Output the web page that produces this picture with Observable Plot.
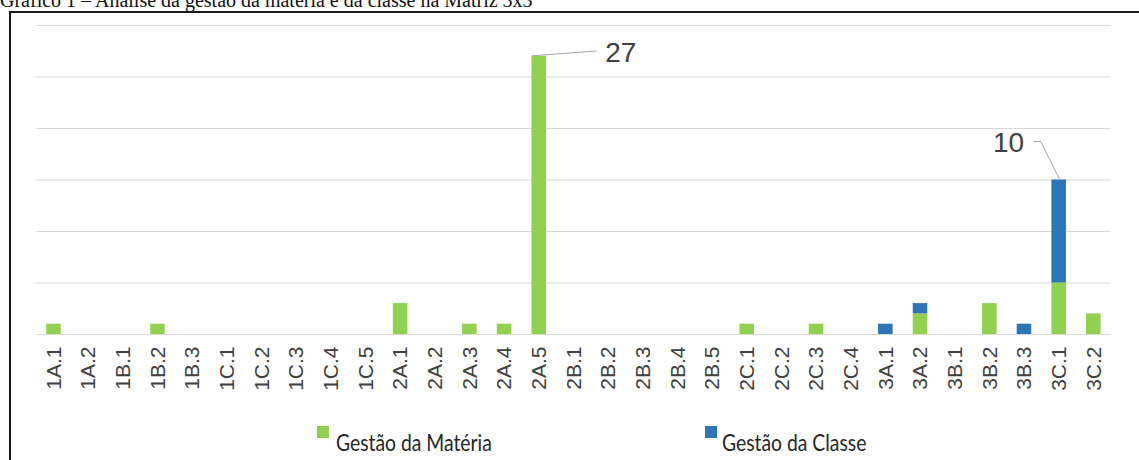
<!DOCTYPE html>
<html>
<head>
<meta charset="utf-8">
<script src="https://cdn.jsdelivr.net/npm/d3@7"></script>
<script src="https://cdn.jsdelivr.net/npm/@observablehq/plot@0.6"></script>
<style>
  body { margin: 0; background: #fff; }
  #wrap { position: relative; width: 1139px; height: 460px; overflow: hidden; background: #fff; }
  #title { position: absolute; left: 0; top: -10px; font-family: "Liberation Serif", "Times New Roman", serif; font-size: 20px; line-height: 1; color: #111; white-space: nowrap; }
  #frame { position: absolute; left: 9px; top: 11px; width: 1200px; height: 600px; border: 2px solid #1a1a1a; box-sizing: border-box; }
  #chart { position: absolute; left: 0; top: 0; }
  .lg-sw { position: absolute; width: 12px; height: 12px; }
  .lg-tx { position: absolute; font-family: Lato, "Open Sans", sans-serif; font-size: 23px; line-height: 1; color: #262626; white-space: nowrap; transform: scaleX(0.84); transform-origin: left top; }
</style>
</head>
<body>
<div id="wrap">
  <div id="title">Gráfico 1 – Análise da gestão da matéria e da classe na Matriz 3x3</div>
  <div id="frame"></div>
  <div id="chart"></div>
  <div id="legend"></div>
</div>
<script>
const categories = ["1A.1","1A.2","1B.1","1B.2","1B.3","1C.1","1C.2","1C.3","1C.4","1C.5",
  "2A.1","2A.2","2A.3","2A.4","2A.5","2B.1","2B.2","2B.3","2B.4","2B.5",
  "2C.1","2C.2","2C.3","2C.4","3A.1","3A.2","3B.1","3B.2","3B.3","3C.1","3C.2"];
const materia = [1,0,0,1,0,0,0,0,0,0, 3,0,1,1,27,0,0,0,0,0, 1,0,1,0,0,2,0,3,0,5,2];
const classe  = [0,0,0,0,0,0,0,0,0,0, 0,0,0,0,0,0,0,0,0,0, 0,0,0,0,1,1,0,0,1,10,0];
const seriesNames = ["Gestão da Matéria", "Gestão da Classe"];
const seriesColors = ["#92D050", "#2E75B6"];
const yTicks = [0,5,10,15,20,25,30];
// data labels: [category, series index]
const labelled = [["2A.5", 0], ["3C.1", 1]];

const rows = [];
categories.forEach((c, i) => {
  rows.push({cat: c, series: seriesNames[0], value: materia[i]});
  rows.push({cat: c, series: seriesNames[1], value: classe[i]});
});
const labelRows = labelled.map(([c, s]) => {
  const i = categories.indexOf(c);
  const value = s === 0 ? materia[i] : classe[i];
  const top = materia[i] + (s === 1 ? classe[i] : 0);
  return {cat: c, value, top, s};
});

const chart = Plot.plot({
  width: 1139,
  height: 460,
  marginLeft: 26.1,
  marginRight: 18.3,
  marginTop: 25,
  marginBottom: 126,
  style: {background: "transparent", color: "#404040", fontFamily: "'Liberation Sans', Arial, sans-serif"},
  x: {domain: categories, padding: 0.58, round: false, label: null},
  y: {domain: [0, 30], axis: null},
  color: {domain: seriesNames, range: seriesColors},
  marks: [
    Plot.ruleY(yTicks, {stroke: "#d9d9d9", strokeWidth: 1, insetLeft: 10.1, insetRight: 10.1}),
    Plot.barY(rows, {x: "cat", y: "value", fill: "series", order: seriesNames}),
    Plot.axisX({tickRotate: -90, tickSize: 0, tickPadding: 12, fontSize: 21, label: null, fill: "#404040"}),
    Plot.text(labelRows.filter(d => d.s === 0), {x: "cat", y: "top", text: d => String(d.value), textAnchor: "start", dx: 66, dy: -3, fontSize: 28, fill: "#404040"}),
    Plot.text(labelRows.filter(d => d.s === 1), {x: "cat", y: "top", text: d => String(d.value), textAnchor: "end", dx: -35, dy: -37, fontSize: 28, fill: "#404040"})
  ]
});
document.getElementById("chart").appendChild(chart);

// leader lines drawn with the plot's own scales
const sx = chart.scale("x"), sy = chart.scale("y");
const bw = sx.bandwidth || 0;
const g = d3.select(chart).append("g").attr("fill", "none").attr("stroke", "#a6a6a6").attr("stroke-width", 1);
for (const d of labelRows) {
  const xc = sx.apply(d.cat) + bw / 2, yt = sy.apply(d.top);
  if (d.s === 0) {
    g.append("path").attr("d", `M${xc - 7},${yt} L${xc + 58},${yt - 5}`);
  } else {
    g.append("path").attr("d", `M${xc - 25},${yt - 38} L${xc - 18},${yt - 38} L${xc + 1},${yt}`);
  }
}

const legend = document.getElementById("legend");
const lgPos = [{sw: 317, tx: 336}, {sw: 705, tx: 722}];
seriesNames.forEach((name, i) => {
  const sw = document.createElement("div");
  sw.className = "lg-sw";
  sw.style.left = lgPos[i].sw + "px";
  sw.style.top = "426px";
  sw.style.background = seriesColors[i];
  legend.appendChild(sw);
  const tx = document.createElement("div");
  tx.className = "lg-tx";
  tx.style.left = lgPos[i].tx + "px";
  tx.style.top = "431px";
  tx.textContent = name;
  legend.appendChild(tx);
});
</script>
</body>
</html>
